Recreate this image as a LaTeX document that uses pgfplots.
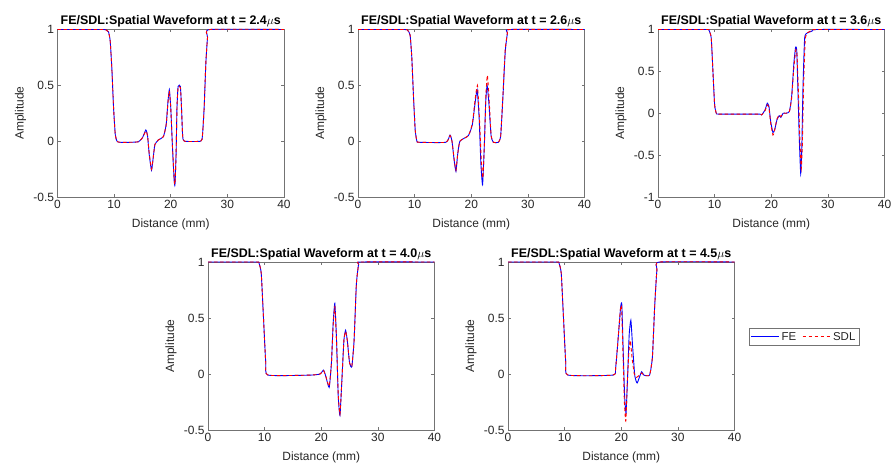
\documentclass[border=0pt]{standalone}
\usepackage{fontspec}
\setmainfont{Liberation Sans}
\usepackage{pgfplots}
\pgfplotsset{compat=1.18}
\definecolor{axc}{rgb}{0.15,0.15,0.15}
\definecolor{boxc}{rgb}{0.45,0.45,0.45}
\pgfplotsset{
  wf/.style={
    scale only axis, width=226.5bp, height=167.5bp,
    xmin=0, xmax=40, xtick={0,10,20,30,40}, xticklabels={0,10,20,30,40},
    axis line style={boxc, line width=0.5bp},
    major tick style={boxc, line width=0.5bp},
    major tick length=3bp, tick align=inside,
    ticklabel style={font=\fontsize{12}{13}\selectfont, text=axc},
    clip=false,
    xlabel={Distance (mm)}, ylabel={Amplitude},
    label style={font=\fontsize{12}{13}\selectfont, text=axc},
    xlabel style={at={(axis description cs:0.5,-0.163)}, anchor=center},
    ylabel style={at={(axis description cs:-0.163,0.5)}, anchor=center, rotate=0},
    title style={font=\bfseries\fontsize{12.5}{14}\selectfont, at={(axis description cs:0.5,0.992)}, anchor=base},
    every axis plot/.append style={line width=0.9bp, smooth, tension=0.3},
  },
  fe/.style={blue, solid},
  sdl/.style={red, dash pattern=on 3.5bp off 2.5bp},
  lowr/.style={ymin=-0.5, ymax=1, ytick={-0.5,0,0.5,1}, yticklabels={-0.5,0,0.5,1}},
}
\begin{document}
\begin{tikzpicture}
\useasboundingbox (0,0) rectangle (892bp,468bp);
% ---------- plot 1 ----------
\begin{axis}[wf, lowr, at={(57.5bp,271bp)}, anchor=south west,
  title={FE/SDL:Spatial Waveform at t = 2.4$\mu$s}]
\addplot[fe] coordinates {(0,1) (8.0,1) (8.6,0.995) (9.0,0.98) (9.3,0.9) (9.6,0.65) (9.9,0.3) (10.2,0.06) (10.5,0.0) (11,-0.01) (13,-0.01) (14.3,-0.005) (15.0,0.03) (15.6,0.10) (15.9,0.05) (16.2,-0.12) (16.6,-0.26) (16.9,-0.15) (17.2,-0.03) (17.8,0.01) (18.7,0.04) (19.2,0.15) (19.5,0.35) (19.75,0.46) (20.0,0.3) (20.3,-0.05) (20.6,-0.35) (20.75,-0.39) (20.95,-0.1) (21.1,0.3) (21.3,0.49) (21.7,0.49) (21.9,0.3) (22.1,0.05) (22.4,0.0) (25.3,0.0) (25.6,0.05) (25.9,0.3) (26.2,0.7) (26.5,0.93) (26.9,1.0) (40,1)};
\addplot[sdl] coordinates {(0,1) (8.0,1) (8.6,0.995) (9.0,0.98) (9.3,0.9) (9.6,0.65) (9.9,0.3) (10.2,0.06) (10.5,0.0) (11,-0.01) (13,-0.01) (14.3,-0.005) (15.0,0.03) (15.6,0.09) (15.9,0.05) (16.2,-0.11) (16.6,-0.25) (16.9,-0.15) (17.2,-0.03) (17.8,0.01) (18.7,0.04) (19.2,0.15) (19.5,0.34) (19.75,0.45) (20.0,0.3) (20.3,-0.04) (20.6,-0.34) (20.75,-0.38) (20.95,-0.1) (21.1,0.3) (21.3,0.48) (21.7,0.48) (21.9,0.3) (22.1,0.05) (22.4,0.0) (25.3,0.0) (25.6,0.05) (25.9,0.3) (26.2,0.7) (26.5,0.93) (26.9,1.0) (40,1)};
\end{axis}
% ---------- plot 2 ----------
\begin{axis}[wf, lowr, at={(358bp,271bp)}, anchor=south west,
  title={FE/SDL:Spatial Waveform at t = 2.6$\mu$s}]
\addplot[fe] coordinates {(0,1) (8.2,1) (8.8,0.99) (9.2,0.95) (9.5,0.75) (9.8,0.4) (10.1,0.1) (10.4,0.0) (10.8,-0.01) (15.5,-0.01) (16.25,0.055) (16.6,0.0) (17.0,-0.18) (17.3,-0.27) (17.6,-0.12) (18.0,0.0) (19.5,0.05) (20.2,0.15) (20.7,0.35) (21.05,0.46) (21.4,0.2) (21.7,-0.2) (22.0,-0.39) (22.3,-0.05) (22.55,0.35) (22.8,0.5) (23.1,0.35) (23.5,0.05) (23.9,-0.01) (24.8,-0.01) (25.2,0.05) (25.6,0.4) (26.0,0.8) (26.4,0.97) (26.8,1.0) (40,1)};
\addplot[sdl] coordinates {(0,1) (8.2,1) (8.8,0.99) (9.2,0.95) (9.5,0.75) (9.8,0.4) (10.1,0.1) (10.4,0.0) (10.8,-0.01) (15.5,-0.01) (16.25,0.05) (16.6,0.0) (17.0,-0.17) (17.3,-0.26) (17.6,-0.12) (18.0,0.0) (19.5,0.05) (20.2,0.16) (20.7,0.38) (21.1,0.5) (21.45,0.2) (21.75,-0.15) (22.05,-0.33) (22.35,0.0) (22.6,0.42) (22.85,0.59) (23.15,0.38) (23.5,0.06) (23.9,-0.01) (24.8,-0.01) (25.2,0.05) (25.6,0.42) (26.0,0.82) (26.4,0.97) (26.8,1.0) (40,1)};
\end{axis}
% ---------- plot 3 ----------
\begin{axis}[wf, at={(658bp,271bp)}, anchor=south west,
  ymin=-1, ymax=1, ytick={-1,-0.5,0,0.5,1}, yticklabels={-1,-0.5,0,0.5,1},
  title={FE/SDL:Spatial Waveform at t = 3.6$\mu$s}]
\addplot[fe] coordinates {(0,1) (8.5,1) (9.0,0.99) (9.4,0.9) (9.7,0.5) (10.0,0.1) (10.3,0.0) (10.8,-0.01) (17.8,-0.01) (18.3,-0.02) (18.9,0.04) (19.3,0.12) (19.6,0.08) (19.9,-0.1) (20.3,-0.23) (20.6,-0.2) (21.0,-0.08) (21.4,-0.03) (21.7,-0.05) (22.1,0.0) (22.6,0.0) (23.2,0.02) (23.6,0.2) (24.0,0.6) (24.3,0.79) (24.5,0.75) (24.7,0.3) (24.95,-0.3) (25.2,-0.72) (25.4,-0.4) (25.6,0.3) (25.9,0.9) (26.4,0.96) (27.2,0.98) (28.0,1.0) (40,1)};
\addplot[sdl] coordinates {(0,1) (8.5,1) (9.0,0.99) (9.4,0.9) (9.7,0.5) (10.0,0.1) (10.3,0.0) (10.8,-0.01) (17.8,-0.01) (18.3,-0.02) (18.9,0.03) (19.3,0.1) (19.6,0.06) (19.9,-0.12) (20.3,-0.26) (20.6,-0.2) (21.0,-0.07) (21.4,-0.02) (21.7,-0.04) (22.1,0.0) (22.6,0.0) (23.2,0.02) (23.6,0.18) (24.0,0.55) (24.35,0.76) (24.55,0.7) (24.8,0.25) (25.05,-0.3) (25.3,-0.66) (25.5,-0.35) (25.7,0.3) (26.0,0.88) (26.4,0.96) (27.2,0.99) (28.0,1.0) (40,1)};
\end{axis}
% ---------- plot 4 ----------
\begin{axis}[wf, lowr, at={(208bp,38bp)}, anchor=south west, height=168bp,
  title={FE/SDL:Spatial Waveform at t = 4.0$\mu$s}]
\addplot[fe] coordinates {(0,1) (8.5,1) (9.0,0.99) (9.4,0.9) (9.8,0.5) (10.2,0.1) (10.6,-0.01) (18,-0.01) (19.8,0.0) (20.4,0.035) (20.8,-0.02) (21.4,-0.12) (21.8,0.1) (22.1,0.45) (22.4,0.63) (22.7,0.3) (23.0,-0.2) (23.3,-0.37) (23.6,-0.1) (24.0,0.3) (24.3,0.39) (24.6,0.3) (25.0,0.1) (25.4,0.065) (25.8,0.3) (26.2,0.8) (26.6,0.98) (27,1.0) (40,1)};
\addplot[sdl] coordinates {(0,1) (8.5,1) (9.0,0.99) (9.4,0.9) (9.8,0.5) (10.2,0.1) (10.6,-0.01) (18,-0.01) (19.8,0.0) (20.4,0.03) (20.8,-0.02) (21.4,-0.11) (21.8,0.1) (22.1,0.43) (22.4,0.6) (22.7,0.3) (23.0,-0.18) (23.3,-0.36) (23.6,-0.1) (24.0,0.3) (24.3,0.38) (24.6,0.3) (25.0,0.1) (25.4,0.07) (25.8,0.3) (26.2,0.8) (26.6,0.98) (27,1.0) (40,1)};
\end{axis}
% ---------- plot 5 ----------
\begin{axis}[wf, lowr, at={(508bp,38bp)}, anchor=south west, height=168bp,
  title={FE/SDL:Spatial Waveform at t = 4.5$\mu$s},
  legend columns=2,
  legend style={at={(axis description cs:1.307,0.554)}, anchor=center,
    draw=boxc, line width=0.5bp, font=\fontsize{11.5}{12}\selectfont, text=axc,
    inner sep=1.5bp, /tikz/every even column/.append style={column sep=4bp}},
  legend image code/.code={\draw[#1, line width=0.9bp, sharp plot] (0bp,0bp) -- (28bp,0bp);}]
\addplot[fe] coordinates {(0,1) (8.5,1) (9.0,0.99) (9.4,0.9) (9.8,0.5) (10.2,0.1) (10.6,-0.01) (18.5,-0.01) (19.0,0.05) (19.5,0.35) (19.9,0.6) (20.1,0.62) (20.35,0.2) (20.6,-0.2) (20.85,-0.35) (21.1,-0.05) (21.4,0.35) (21.7,0.48) (22.0,0.25) (22.4,-0.02) (22.8,-0.08) (23.2,-0.03) (23.6,0.02) (24.0,-0.01) (25.0,-0.01) (25.5,0.15) (25.9,0.6) (26.3,0.93) (26.8,1.0) (40,1)};
\addlegendentry{FE}
\addplot[sdl] coordinates {(0,1) (8.5,1) (9.0,0.99) (9.4,0.9) (9.8,0.5) (10.2,0.1) (10.6,-0.01) (18.5,-0.01) (19.0,0.05) (19.5,0.35) (19.85,0.58) (20.05,0.6) (20.3,0.2) (20.55,-0.25) (20.8,-0.42) (21.05,-0.1) (21.35,0.2) (21.6,0.3) (21.9,0.15) (22.3,0.0) (22.7,-0.03) (23.2,-0.01) (23.6,0.01) (24.0,-0.01) (25.0,-0.01) (25.5,0.15) (25.9,0.6) (26.3,0.93) (26.8,1.0) (40,1)};
\addlegendentry{SDL}
\end{axis}
\end{tikzpicture}
\end{document}
